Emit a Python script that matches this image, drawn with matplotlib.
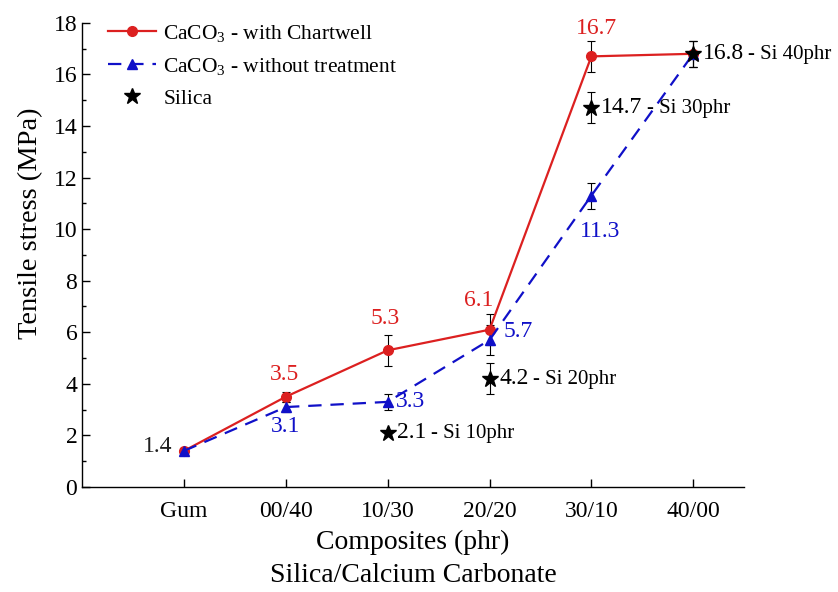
import numpy as np
import matplotlib
matplotlib.use('Agg')
import matplotlib.pyplot as plt

matplotlib.rcParams['font.family'] = ['Liberation Serif', 'DejaVu Serif']
matplotlib.rcParams['mathtext.fontset'] = 'custom'
matplotlib.rcParams['mathtext.rm'] = 'Liberation Serif'

categories = ['Gum', '00/40', '10/30', '20/20', '30/10', '40/00']

chartwell = [1.4, 3.5, 5.3, 6.1, 16.7, 16.8]
chartwell_err = [0.1, 0.2, 0.6, 0.6, 0.6, 0.5]

untreated = [1.4, 3.1, 3.3, 5.7, 11.3, 16.8]
untreated_err = [0.1, 0.2, 0.3, 0.6, 0.5, 0.5]

silica_idx = [2, 3, 4, 5]
silica = [2.1, 4.2, 14.7, 16.8]
silica_err = [0.0, 0.6, 0.6, 0.5]
silica_tag = ['Si 10phr', 'Si 20phr', 'Si 30phr', 'Si 40phr']

red = '#dc2020'
blue = '#1010c8'

x = np.arange(1, len(categories) + 1)
xs = x[silica_idx]

fig = plt.figure(figsize=(8.38, 5.92), dpi=100)
ax = fig.add_axes([0.098, 0.1774, 0.79, 0.784])

ebar = dict(fmt='none', ecolor='black', elinewidth=0.8, capsize=3, capthick=0.8, zorder=2)
ax.errorbar(x, chartwell, yerr=chartwell_err, **ebar)
ax.errorbar(x, untreated, yerr=untreated_err, **ebar)
ax.errorbar(xs, silica, yerr=silica_err, **ebar)

ax.plot(x, chartwell, '-o', color=red, lw=1.6, ms=7, label=r'CaCO$\mathregular{_3}$ - with Chartwell', zorder=3)
ax.plot(x, untreated, '--^', color=blue, lw=1.6, ms=7, dashes=(6, 4), label=r'CaCO$\mathregular{_3}$ - without treatment', zorder=3)
ax.plot(xs, silica, '*', color='black', ms=12, ls='none', label='Silica', zorder=4)

# value labels: red series (offsets in points)
red_off = [None, (-1, 16), (-2, 23), (-8, 21), (4, 20), None]
for i, off in enumerate(red_off):
  if off is None: continue
  ax.annotate(f'{chartwell[i]}', (x[i], chartwell[i]), xytext=off, textcoords='offset points', ha='center', va='center', color=red, fontsize=17)
ax.annotate('1.4', (x[0], chartwell[0]), xytext=(-8, 3), textcoords='offset points', ha='right', va='center', color='#202020', fontsize=17)

# value labels: blue series
blue_off = [None, (0, -14, 'center'), (6, 0, 'left'), (10, 6, 'left'), (6, -26, 'center'), None]
for i, off in enumerate(blue_off):
  if off is None: continue
  ax.annotate(f'{untreated[i]}', (x[i], untreated[i]), xytext=off[:2], textcoords='offset points', ha=off[2], va='center', color=blue, fontsize=17)

# silica labels
for xi, yi, tag in zip(xs, silica, silica_tag):
  t = ax.annotate(f'{yi}', (xi, yi), xytext=(7, 0), textcoords='offset points', ha='left', va='center', color='black', fontsize=17)
  ax.annotate(f'- {tag}', xy=(1, 0.45), xycoords=t, xytext=(3, 0), textcoords='offset points', ha='left', va='center', color='black', fontsize=15)

ax.set_xlim(0, 6.5)
ax.set_ylim(0, 18)
ax.set_xticks(x)
ax.set_xticklabels(categories)
ax.set_yticks(np.arange(0, 19, 2))
ax.set_yticks(np.arange(1, 18, 2), minor=True)

ax.spines['top'].set_visible(False)
ax.spines['right'].set_visible(False)
[sp.set_linewidth(1.0) for sp in ax.spines.values()]

ax.tick_params(axis='both', which='major', direction='in', labelsize=17, length=6, width=1)
ax.tick_params(axis='y', which='minor', direction='in', length=3, width=1)
ax.tick_params(axis='x', which='major', pad=10)

ax.set_ylabel('Tensile stress (MPa)', fontsize=20.5)
ax.yaxis.set_label_coords(-0.059, 0.569)
ax.set_xlabel('Composites (phr)\nSilica/Calcium Carbonate', fontsize=20, linespacing=1.4, labelpad=6)

ax.legend(loc='upper left', frameon=False, fontsize=15.5, handlelength=2.2, handletextpad=0.35, labelspacing=0.55,
          borderaxespad=0.2, bbox_to_anchor=(0.02, 1.028))

fig.savefig('out.png', dpi=100)
